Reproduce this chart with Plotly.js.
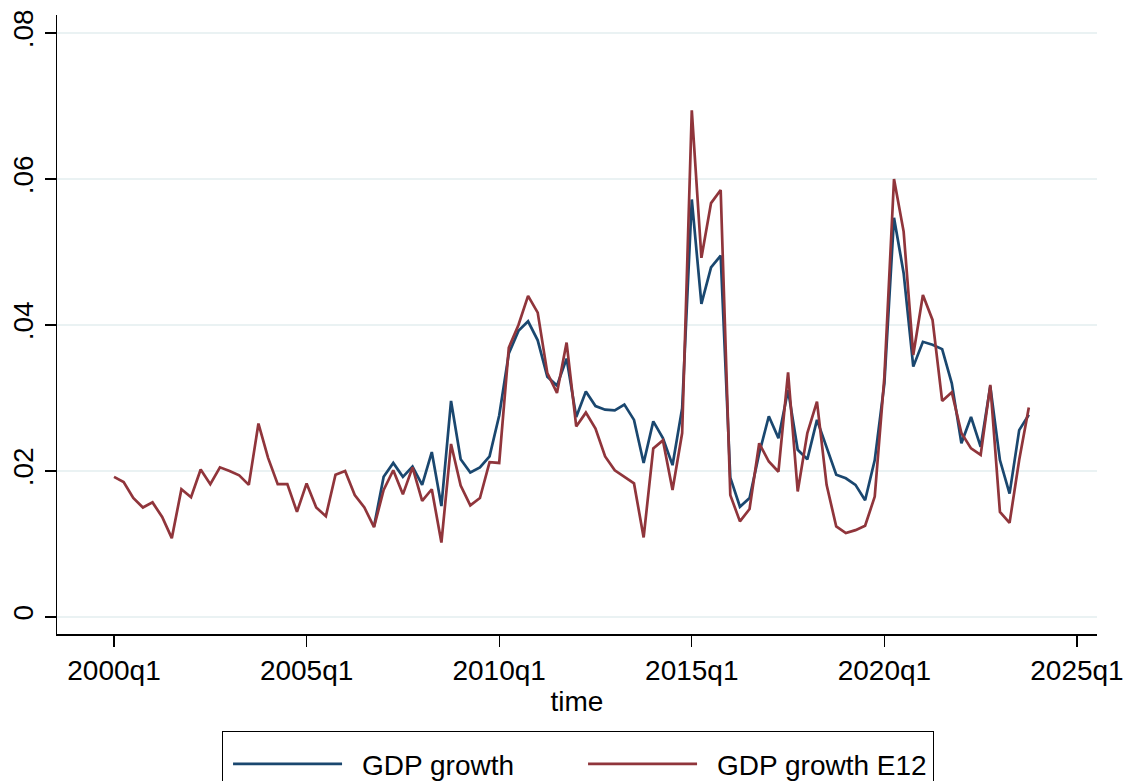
<!DOCTYPE html>
<html>
<head>
<meta charset="utf-8">
<script src="https://cdn.plot.ly/plotly-3.0.1.min.js"></script>
<style>html,body{margin:0;padding:0;background:#fff}#chart{width:1127px;height:781px}</style>
</head>
<body>
<div id="chart"></div>
<script>
// Quarterly data, 2000q1 .. 2023q4
var startYear = 2000;
var gdpGrowthE12 = [
  0.0192, 0.0185, 0.0163, 0.0150, 0.0157, 0.0137, 0.0108, 0.0175,
  0.0164, 0.0202, 0.0182, 0.0205, 0.0200, 0.0194, 0.0181, 0.0265,
  0.0218, 0.0182, 0.0182, 0.0144, 0.0183, 0.0150, 0.0138, 0.0195,
  0.0200, 0.0167, 0.0150, 0.0123, 0.0174, 0.0201, 0.0168, 0.0205,
  0.0159, 0.0175, 0.0102, 0.0237, 0.0180, 0.0153, 0.0163, 0.0212,
  0.0211, 0.0369, 0.0400, 0.0440, 0.0417, 0.0334, 0.0307, 0.0376,
  0.0261, 0.0280, 0.0258, 0.0220, 0.0201, 0.0192, 0.0183, 0.0109,
  0.0231, 0.0242, 0.0174, 0.0252, 0.0694, 0.0492, 0.0567, 0.0585,
  0.0167, 0.0131, 0.0148, 0.0238, 0.0213, 0.0199, 0.0335, 0.0172,
  0.0252, 0.0295, 0.0181, 0.0124, 0.0115, 0.0119, 0.0125, 0.0165,
  0.0329, 0.0600, 0.0528, 0.0359, 0.0441, 0.0407, 0.0296, 0.0308,
  0.0252, 0.0231, 0.0222, 0.0318, 0.0144, 0.0129, 0.0215, 0.0287
];
var gdpGrowth = [
  null, null, null, null, null, null, null, null,
  null, null, null, null, null, null, null, null,
  null, null, null, null, null, null, null, null,
  null, null, null, 0.0124, 0.0192, 0.0211, 0.0192, 0.0206,
  0.0181, 0.0226, 0.0152, 0.0296, 0.0216, 0.0198, 0.0205, 0.0220,
  0.0276, 0.0361, 0.0392, 0.0405, 0.0379, 0.0329, 0.0317, 0.0354,
  0.0274, 0.0309, 0.0289, 0.0284, 0.0283, 0.0291, 0.0270, 0.0211,
  0.0268, 0.0245, 0.0208, 0.0286, 0.0572, 0.0429, 0.0479, 0.0495,
  0.0191, 0.0151, 0.0163, 0.0224, 0.0275, 0.0245, 0.0311, 0.0229,
  0.0216, 0.0270, 0.0231, 0.0195, 0.0190, 0.0181, 0.0160, 0.0215,
  0.0320, 0.0547, 0.0471, 0.0343, 0.0377, 0.0373, 0.0367, 0.0320,
  0.0238, 0.0274, 0.0233, 0.0316, 0.0215, 0.0169, 0.0256, 0.0277
];
var xTickYears = [2000, 2005, 2010, 2015, 2020, 2025];
var xTickLabels = ["2000q1", "2005q1", "2010q1", "2015q1", "2020q1", "2025q1"];
var yTickVals = [0, 0.02, 0.04, 0.06, 0.08];
var yTickLabels = ["0", ".02", ".04", ".06", ".08"];

var time = gdpGrowthE12.map(function (_, i) { return startYear + i / 4; });
var quarterLabels = gdpGrowthE12.map(function (_, i) {
  return (startYear + Math.floor(i / 4)) + "q" + (i % 4 + 1);
});

var FONT = '"Liberation Sans", Arial, Helvetica, sans-serif';

var traces = [
  {
    x: time, y: gdpGrowth, text: quarterLabels, name: "GDP growth",
    type: "scatter", mode: "lines", connectgaps: false,
    line: {color: "#1a476f", width: 2.7}
  },
  {
    x: time, y: gdpGrowthE12, text: quarterLabels, name: "GDP growth E12",
    type: "scatter", mode: "lines",
    line: {color: "#90353b", width: 2.7}
  }
];

var layout = {
  width: 1127, height: 781,
  paper_bgcolor: "#ffffff", plot_bgcolor: "#ffffff",
  margin: {l: 57, r: 30, t: 15, b: 147, autoexpand: false},
  font: {family: FONT, size: 28, color: "#000"},
  showlegend: true,
  legend: {
    orientation: "h", xref: "paper", yref: "paper",
    x: 0.1587, xanchor: "left", y: -0.1567, yanchor: "top",
    bordercolor: "#000", borderwidth: 1, bgcolor: "#fff",
    font: {family: FONT, size: 28, color: "#000"},
    title: {text: " ", side: "top", font: {family: FONT, size: 5.5, color: "#fff"}},
    itemwidth: 129, entrywidth: 211, entrywidthmode: "pixels",
    traceorder: "normal"
  },
  xaxis: {
    range: [1998.52, 2025.52],
    tickmode: "array", tickvals: xTickYears, ticktext: xTickLabels,
    ticks: "outside", ticklen: 11, tickwidth: 1.3, tickcolor: "#000",
    showline: true, linecolor: "#000", linewidth: 1.5,
    showgrid: false, zeroline: false,
    tickfont: {family: FONT, size: 28, color: "#000"},
    title: {text: "time", font: {family: FONT, size: 28, color: "#000"}, standoff: 6}
  },
  yaxis: {
    range: [-0.00233, 0.08247],
    tickmode: "array", tickvals: yTickVals, ticktext: yTickLabels,
    tickangle: -90,
    ticks: "outside", ticklen: 11, tickwidth: 1.3, tickcolor: "#000",
    showline: true, linecolor: "#000", linewidth: 1.5,
    showgrid: true, gridcolor: "#eaf2f3", gridwidth: 2,
    zeroline: false,
    tickfont: {family: FONT, size: 28, color: "#000"}
  }
};

Plotly.newPlot("chart", traces, layout, {staticPlot: true, displayModeBar: false}).then(function (gd) {
  // lengthen legend line samples to span the item width (Stata-style long keys)
  var paths = gd.querySelectorAll(".legend .legendlines path");
  paths.forEach(function (p) { p.setAttribute("d", "M10,0h109"); });
});
</script>
</body>
</html>
